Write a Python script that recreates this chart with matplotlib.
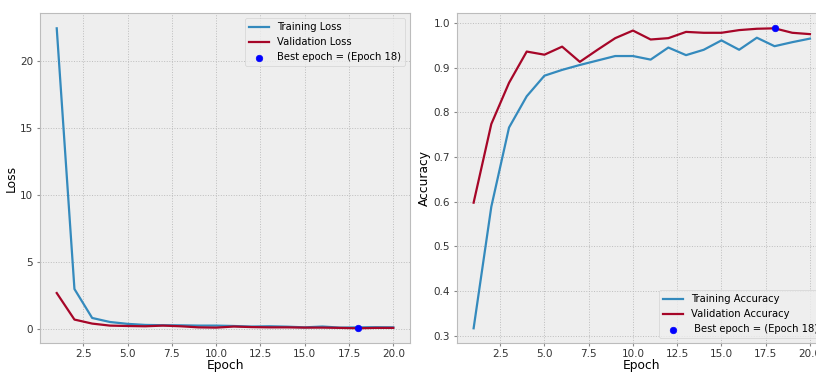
import matplotlib
matplotlib.use('Agg')
import matplotlib.pyplot as plt

epochs = list(range(1, 21))

tr_loss = [22.43, 2.98, 0.82, 0.52, 0.38, 0.30, 0.28, 0.27, 0.25, 0.25,
           0.22, 0.18, 0.20, 0.17, 0.12, 0.18, 0.10, 0.12, 0.13, 0.12]
val_loss = [2.68, 0.70, 0.40, 0.25, 0.22, 0.20, 0.25, 0.20, 0.12, 0.10,
            0.18, 0.14, 0.12, 0.12, 0.10, 0.10, 0.08, 0.05, 0.08, 0.08]

tr_acc = [0.317, 0.589, 0.766, 0.836, 0.882, 0.895, 0.906, 0.916, 0.926, 0.926,
          0.918, 0.945, 0.928, 0.940, 0.961, 0.940, 0.967, 0.948, 0.957, 0.965]
val_acc = [0.598, 0.774, 0.866, 0.936, 0.929, 0.947, 0.913, 0.940, 0.966, 0.983,
           0.963, 0.966, 0.980, 0.978, 0.978, 0.984, 0.987, 0.988, 0.978, 0.975]

best_epoch = 18

plt.style.use('bmh')
plt.rcParams['font.size'] = 7.5
plt.rcParams['axes.labelsize'] = 8.8
plt.rcParams['grid.linestyle'] = ':'
plt.rcParams['grid.color'] = '#bdbdbd'
plt.rcParams['grid.linewidth'] = 0.7
plt.rcParams['xtick.direction'] = 'out'
plt.rcParams['ytick.direction'] = 'out'
plt.rcParams['xtick.major.size'] = 2.5
plt.rcParams['ytick.major.size'] = 2.5
plt.rcParams['xtick.color'] = '#888888'
plt.rcParams['ytick.color'] = '#888888'
plt.rcParams['xtick.labelcolor'] = '#333333'
plt.rcParams['ytick.labelcolor'] = '#333333'
plt.rcParams['xtick.major.pad'] = 1.5
plt.rcParams['ytick.major.pad'] = 2.5

fig = plt.figure(figsize=(8.16, 3.72), dpi=100)
ax1 = fig.add_axes([0.0489, 0.0772, 0.4537, 0.887])
ax2 = fig.add_axes([0.5598, 0.0772, 0.4534, 0.887])

# loss
ax1.plot(epochs, tr_loss, linewidth=1.6, label='Training Loss')
ax1.plot(epochs, val_loss, linewidth=1.6, label='Validation Loss')
ax1.scatter(best_epoch, val_loss[best_epoch - 1], s=22, c='blue', zorder=3,
            label='Best epoch = (Epoch 18)')
ax1.set_xlabel('Epoch', labelpad=0)
ax1.set_ylabel('Loss', labelpad=1.5)
ax1.legend(loc='upper right', fontsize=7.2)

# accuracy
ax2.plot(epochs, tr_acc, linewidth=1.6, label='Training Accuracy')
ax2.plot(epochs, val_acc, linewidth=1.6, label='Validation Accuracy')
ax2.scatter(best_epoch, val_acc[best_epoch - 1], s=22, c='blue', zorder=3,
            label=' Best epoch = (Epoch 18)')
ax2.set_xlabel('Epoch', labelpad=0)
ax2.set_ylabel('Accuracy', labelpad=1.5)
ax2.legend(loc='lower right', fontsize=7.2)

fig.savefig('out.png', dpi=100)
